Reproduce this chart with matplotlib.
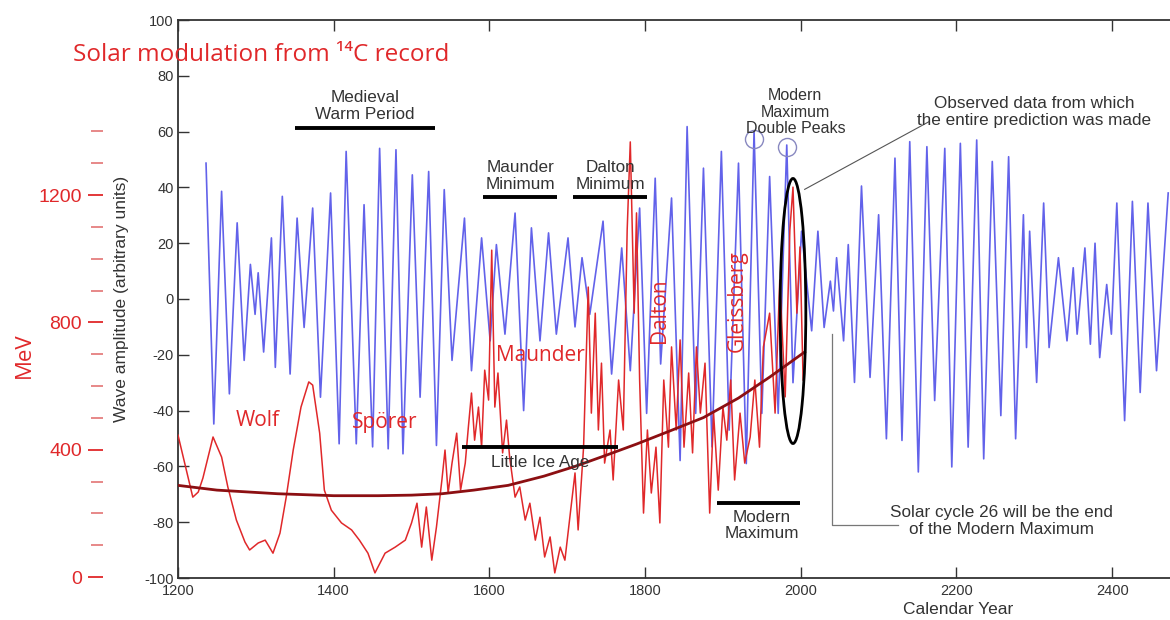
"""Solar modulation (14C) vs. wave-model amplitude, 1200-2470."""
import matplotlib
matplotlib.use("Agg")
import matplotlib.pyplot as plt  # noqa: E402
from matplotlib.patches import Ellipse  # noqa: E402

# ── data ──
# blue wave model (arbitrary units), alternating extrema
blue_years = [1236, 1246, 1256, 1266, 1276, 1285, 1293, 1299, 1303, 1310, 1320, 1325, 1334, 1344,
              1353, 1362, 1373, 1383, 1396, 1407, 1416, 1429, 1439, 1450,
              1459, 1470, 1480, 1489, 1501, 1511, 1522, 1532, 1542, 1552, 1568, 1577, 1590, 1601,
              1609, 1620, 1633, 1644, 1654, 1665, 1676, 1686, 1701,
              1710,
              1719, 1729, 1746, 1757, 1770, 1781, 1793, 1802, 1813, 1820, 1834, 1845, 1854, 1865,
              1875, 1886, 1898, 1908, 1920, 1930, 1940, 1950,
              1960, 1971, 1982, 1990, 2001, 2014, 2022, 2030, 2038, 2042, 2046, 2055, 2061, 2069,
              2078, 2089, 2100, 2110, 2121, 2130, 2140, 2151, 2162, 2172, 2185, 2194, 2205,
              2215, 2226, 2235, 2246, 2257, 2267, 2276, 2286, 2290, 2294, 2303, 2312, 2319, 2331,
              2342, 2350, 2355, 2365, 2372, 2378, 2384, 2393, 2399, 2406, 2416, 2426, 2436, 2446,
              2457, 2472]
blue_amp = [48.7, -44.8, 38.6, -34.0, 27.3, -22.0, 12.4, -5.5, 9.4, -19.0, 21.9, -24.5, 36.8, -26.9,
            29.0, -10.2, 32.6, -35.2, 38.0, -51.9, 52.9, -51.9, 33.8, -53.0,
            54, -53.7, 53.5, -55.5, 44.5, -35.2, 45.7, -52.5, 39.2, -22, 29, -25.7, 21.9, -15,
            19.5, -12.6, 30.8, -40, 25.5, -15, 23.7, -12.6, 21.9,
            -10,
            14.8, -5.5, 27.9, -26.9, 18.3, -25.7, 32.6, -41, 43.3, -23.3, 36.2, -57.9, 61.8, -41,
            46.9, -53, 52.9, -47, 48.7, -59, 60, -41,
            43.9, -41, 55.2, -30, 24.3, -11.4, 24.3, -10.2, 6.4, -4.3, 14.8, -15, 19.5, -29.9,
            40.5, -28.1, 30.2, -50.1, 50.5, -50.7, 56.4, -62, 54.6, -36.4, 54, -60.2, 55.8,
            -53.1, 57, -57.3, 49.3, -41.8, 51, -50.1, 30.2, -17.4, 24.3, -29.9, 34.4, -17.4, 14.8,
            -15, 11.2, -12.6, 18.3, -16.2, 20, -21, 5.2, -12.6, 34.4, -43.6, 35, -33.5, 34.4,
            -25.7, 38]

# red 14C solar modulation (MeV)
red_years = [1200, 1219, 1226, 1232, 1245, 1256, 1264, 1275, 1286, 1292, 1303, 1312, 1322, 1331,
             1339, 1348, 1358, 1368, 1373, 1382, 1388, 1397, 1410, 1423, 1433, 1444, 1453,
             1466, 1479, 1492, 1500, 1507, 1513, 1519, 1526, 1532, 1539, 1543, 1547, 1552, 1558,
             1563, 1569, 1573, 1577, 1581, 1586, 1590, 1594, 1599, 1603, 1607, 1611, 1617, 1622,
             1626, 1633, 1639, 1646, 1652, 1659, 1665, 1671, 1678, 1684, 1691, 1697,
             1704, 1710, 1714, 1721, 1727, 1731, 1736, 1740, 1744, 1748, 1755, 1759, 1766, 1772,
             1777, 1781, 1786, 1789, 1793, 1798, 1803, 1808, 1814, 1819, 1824, 1830, 1834, 1840,
             1845, 1850, 1856, 1861, 1866, 1871, 1877, 1883, 1888, 1894, 1900, 1905, 1910, 1915,
             1922, 1928, 1935, 1941, 1947, 1952,
             1960, 1967, 1973, 1980, 1986, 1990, 1995, 1999, 2003]
red_mev = [446, 251, 267, 311, 440, 377, 283, 179, 110, 85, 107, 116, 75, 138,
           251, 399, 534, 613, 603, 452, 273, 210, 170, 148, 116, 75, 13,
           75, 94, 116, 170, 232, 94, 220, 53, 157, 305, 399, 264, 358, 452,
           273, 358, 471, 578, 430, 534, 408, 650, 556, 1027, 534, 641, 390, 493,
           377, 251, 283, 179, 232, 116, 188, 63, 126, 13, 94, 53,
           201, 327, 148, 408, 911, 515, 829, 462, 672, 358, 462, 305, 619, 462,
           1090, 1367, 829, 1144, 619, 201, 462, 264, 408, 170, 619, 408, 723, 462,
           745, 408, 641, 390, 723, 515, 672, 201, 515, 273, 534, 430, 619, 305,
           515, 358, 440, 619, 408, 723,
           829, 515, 933, 566, 1090, 1225, 829, 1037, 619]

# smooth long-term trend (wave units)
trend_years = [1200, 1250, 1328, 1400, 1457, 1500, 1539, 1580, 1624, 1670, 1710, 1750, 1789,
               1830, 1875, 1920, 1960, 2005]
trend_amp = [-66.8, -68.5, -69.8, -70.5, -70.5, -70.3, -69.8, -68.5, -66.8, -63.5, -60, -56, -52,
             -47.5, -42.5, -35.5, -28, -19]

# period bars
bar_start = [1350, 1592, 1707, 1565, 1892]
bar_end = [1530, 1687, 1802, 1765, 1999]
bar_level = [61.4, 36.4, 36.4, -53, -73]

GRAY = "#333333"
RED = "#e0282a"
FONT = ["Liberation Sans", "DejaVu Sans"]
RFONT = ["Open Sans", "DejaVu Sans"]

plt.rcParams["font.family"] = FONT
plt.rcParams["axes.unicode_minus"] = False
fig = plt.figure(figsize=(11.7, 6.2), dpi=100)
ax = fig.add_axes([178 / 1170, 42 / 620, 1012 / 1170, 558 / 620])
ax.set_xlim(1200, 2500)
ax.set_ylim(-100, 100)

ax.plot(blue_years, blue_amp, color="#6262ea", lw=1.2, zorder=2)

ax.set_xticks(range(1200, 2401, 200))
ax.set_yticks(range(-100, 101, 20))
ax.tick_params(direction="in", top=True, length=8, width=1, labelsize=10.5,
               colors=GRAY, labelcolor=GRAY, pad=3)
ax.tick_params(axis="x", pad=4)
for s in ax.spines.values():
    s.set_color(GRAY)
    s.set_linewidth(1.3)
ax.set_ylabel("Wave amplitude (arbitrary units)", fontsize=12.5, color=GRAY, labelpad=11)
ax.set_xlabel("Calendar Year", fontsize=12.5, color=GRAY)
ax.xaxis.set_label_coords((958 - 178) / 1012, -0.043)

# MeV scale on the far left
ax2 = ax.twinx()
ax2.set_ylim(-3, 1750)
ax2.yaxis.set_ticks_position("left")
ax2.spines["left"].set_position(("outward", 54))
for s in ax2.spines.values():
    s.set_visible(False)
ax2.set_yticks([0, 400, 800, 1200])
ax2.set_yticks(range(100, 1401, 100), minor=True)
ax2.tick_params(axis="y", which="major", direction="out", length=11, width=1.3,
                color=RED, labelcolor=RED, labelsize=14, pad=4)
ax2.tick_params(axis="y", which="minor", direction="out", length=9, width=1.1, color="#e06868")
ax2.plot(red_years, red_mev, color=RED, lw=1.1, zorder=3)

T = ax.transData
ax2.plot(trend_years, trend_amp, color="#8c0f12", lw=2, transform=T, zorder=4)
for a, b, lv in zip(bar_start, bar_end, bar_level):
    ax2.plot([a, b], [lv, lv], color="black", lw=2.8, transform=T, zorder=5,
             solid_capstyle="butt")

ax2.add_patch(Ellipse((1990, -4.3), 33, 95, fill=False, ec="black", lw=2,
                      transform=T, zorder=6))
ax2.plot([1940, 1982], [57.5, 54.6], ls="none", marker="o", ms=13, mfc="none",
         mec="#8888c0", mew=1, transform=T, zorder=6)

# leader lines
ax2.plot([2005, 2165], [39.3, 63.6], color="#555555", lw=0.8, transform=T, zorder=6)
ax2.plot([2040, 2040, 2125], [-12.5, -81, -81], color="#777777", lw=0.9, transform=T, zorder=6)

tk = dict(transform=T, fontsize=12.3, color=GRAY, ha="center", linespacing=1.12, zorder=7)
ax2.text(1440, 63.5, "Medieval\nWarm Period", va="bottom", **tk)
ax2.text(1640, 38.5, "Maunder\nMinimum", va="bottom", **tk)
ax2.text(1755, 38.5, "Dalton\nMinimum", va="bottom", **tk)
ax2.text(1665, -56, "Little Ice Age", va="top", **tk)
ax2.text(1950, -75.5, "Modern\nMaximum", va="top", **tk)
ax2.text(1993, 67, "Modern\nMaximum\nDouble Peaks", va="center",
         **{**tk, "fontsize": 11.5})
ax2.text(2300, 67, "Observed data from which\nthe entire prediction was made", va="center", **tk)
ax2.text(2258, -79.5, "Solar cycle 26 will be the end\nof the Modern Maximum", va="center", **tk)

rk = dict(transform=T, fontsize=15, color=RED, ha="center", va="center", family=RFONT, zorder=7)
ax2.text(1303, -43.6, "Wolf", **rk)
ax2.text(1466, -44.3, "Spörer", **rk)
ax2.text(1665, -20.4, "Maunder", **rk)
ax2.text(1819, -4.3, "Dalton", rotation=90, **rk)
ax2.text(1919, -0.7, "Gleissberg", rotation=90, **rk)

fig.text(73 / 1170, 1 - 55 / 620, "Solar modulation from \u00b9\u2074C record", color=RED,
         fontsize=17.5, family=RFONT, va="center", ha="left")
fig.text(24 / 1170, 1 - 355 / 620, "MeV", color=RED, fontsize=16, family=RFONT,
         rotation=90, va="center", ha="center")

fig.savefig("out.png", dpi=100)
print("wrote out.png")
